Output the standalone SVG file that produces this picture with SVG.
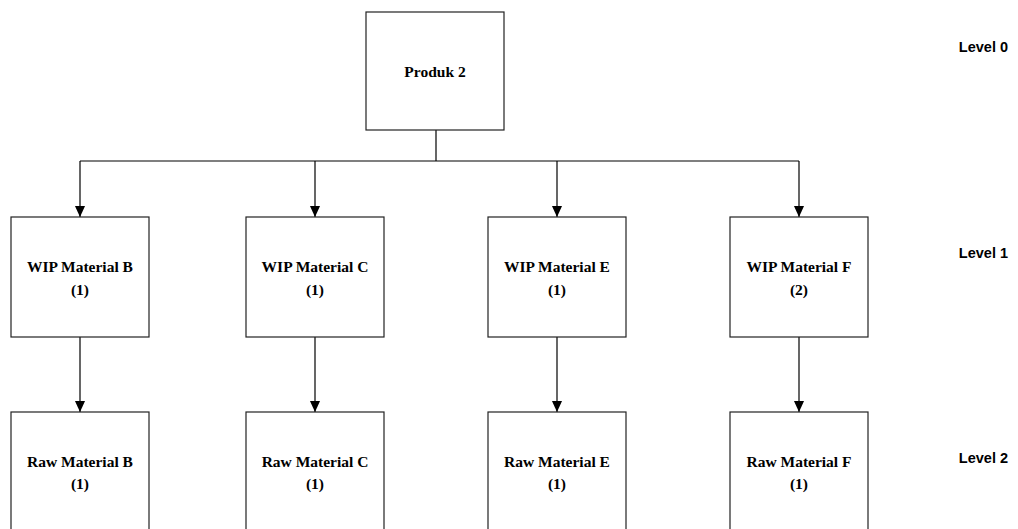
<svg xmlns="http://www.w3.org/2000/svg" width="1018" height="529" viewBox="0 0 1018 529">
<style>
.box{fill:#fff;stroke:#222;stroke-width:1.2}
.t{font-family:"Liberation Serif","Times New Roman",serif;font-weight:bold;font-size:15.5px;text-anchor:middle;fill:#000}
.lv{font-family:"Liberation Sans",Arial,sans-serif;font-weight:bold;font-size:14.5px;text-anchor:end;fill:#000}
.c{stroke:#000;stroke-width:1.2;fill:none}
.a{stroke:#000;stroke-width:1.2;fill:none;marker-end:url(#arr)}
</style>
<defs>
<marker id="arr" markerWidth="11" markerHeight="12" refX="12" refY="5.5" orient="auto" markerUnits="userSpaceOnUse" viewBox="0 0 12 11">
<path d="M0,0 L12,5.5 L0,11 Z" fill="#000"/>
</marker>
</defs>
<g id="connectors">
<path class="c" d="M436,130 V161"/>
<path class="c" d="M80,161 H799"/>
<path class="a" d="M80,161 V217"/>
<path class="a" d="M315,161 V217"/>
<path class="a" d="M557,161 V217"/>
<path class="a" d="M799,161 V217"/>
<path class="a" d="M80,337 V412"/>
<path class="a" d="M315,337 V412"/>
<path class="a" d="M557,337 V412"/>
<path class="a" d="M799,337 V412"/>
</g>
<g id="produk2"><rect class="box" x="366" y="12" width="138" height="118"/><text class="t" x="435" y="77">Produk 2</text></g>
<g id="wipB"><rect class="box" x="11" y="217" width="138" height="120"/><text class="t" x="80" y="272">WIP Material B</text><text class="t" x="80" y="295">(1)</text></g>
<g id="wipC"><rect class="box" x="246" y="217" width="138" height="120"/><text class="t" x="315" y="272">WIP Material C</text><text class="t" x="315" y="295">(1)</text></g>
<g id="wipE"><rect class="box" x="488" y="217" width="138" height="120"/><text class="t" x="557" y="272">WIP Material E</text><text class="t" x="557" y="295">(1)</text></g>
<g id="wipF"><rect class="box" x="730" y="217" width="138" height="120"/><text class="t" x="799" y="272">WIP Material F</text><text class="t" x="799" y="295">(2)</text></g>
<g id="rawB"><rect class="box" x="11" y="412" width="138" height="130"/><text class="t" x="80" y="467">Raw Material B</text><text class="t" x="80" y="489">(1)</text></g>
<g id="rawC"><rect class="box" x="246" y="412" width="138" height="130"/><text class="t" x="315" y="467">Raw Material C</text><text class="t" x="315" y="489">(1)</text></g>
<g id="rawE"><rect class="box" x="488" y="412" width="138" height="130"/><text class="t" x="557" y="467">Raw Material E</text><text class="t" x="557" y="489">(1)</text></g>
<g id="rawF"><rect class="box" x="730" y="412" width="138" height="130"/><text class="t" x="799" y="467">Raw Material F</text><text class="t" x="799" y="489">(1)</text></g>
<g id="levels">
<text class="lv" x="1008" y="52">Level 0</text>
<text class="lv" x="1008" y="258">Level 1</text>
<text class="lv" x="1008" y="463">Level 2</text>
</g>
</svg>
